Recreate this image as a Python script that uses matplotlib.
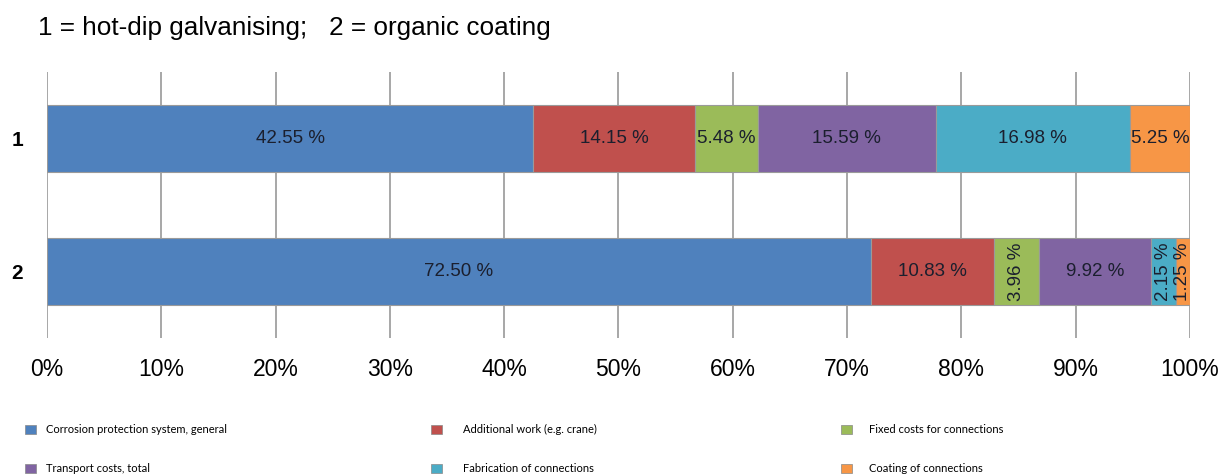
import matplotlib.pyplot as plt
from matplotlib.patches import Patch

categories = ["1", "2"]
series_names = ["Corrosion protection system, general",
                "Additional work (e.g. crane)",
                "Fixed costs for connections",
                "Transport costs, total",
                "Fabrication of connections",
                "Coating of connections"]
values_1 = [42.55, 14.15, 5.48, 15.59, 16.98, 5.25]
values_2 = [72.50, 10.83, 3.96, 9.92, 2.15, 1.25]
colors = ["#4F81BD", "#C0504D", "#9BBB59", "#8064A2", "#4BACC6", "#F79646"]
ticks = [0, 10, 20, 30, 40, 50, 60, 70, 80, 90, 100]

plt.rcParams['font.family'] = ['Liberation Sans', 'DejaVu Sans']

fig = plt.figure(figsize=(12.23, 4.75), dpi=100)
ax = fig.add_axes([0.0384, 0.288, 0.9346, 0.56])

# 100 % stacked: each row scaled to its own total, labels keep the raw values
rows = [values_1, values_2]
for i, vals in enumerate(rows):
    total = sum(vals)
    left = 0
    for j, v in enumerate(vals):
        w = v / total * 100
        ax.barh(i, w, left=left, height=0.5, color=colors[j],
                edgecolor="#9a9a9a", linewidth=0.8, zorder=3)
        rot = 90 if v < 5 else 0
        ax.text(left + w / 2, i, f"{v:.2f} %", rotation=rot, ha="center",
                va="center", fontsize=13.5, color="#1b1f2e", zorder=4)
        left += w

ax.set_xlim(0, 100)
ax.set_ylim(1.5, -0.5)
ax.set_xticks(ticks)
ax.set_xticklabels([f"{t}%" for t in ticks], fontsize=16.5)
ax.set_yticks([0, 1])
ax.set_yticklabels(categories, fontsize=15, fontweight="bold")
ax.tick_params(axis="x", length=0, pad=14)
ax.tick_params(axis="y", length=0, pad=17)
ax.grid(axis="x", color="#a0a0a0", linewidth=1.3, zorder=0)
for s in ax.spines.values():
    s.set_visible(False)

fig.text(0.031, 0.94, "1 = hot-dip galvanising;   2 = organic coating",
         fontsize=18.8, va="center", ha="left")

# legend, three columns
col_x = [0.017, 0.349, 0.684]
pads = [0.9, 1.9, 1.6]
for c in range(3):
    handles = [Patch(facecolor=colors[c], edgecolor="#888888", linewidth=0.5),
               Patch(facecolor=colors[c + 3], edgecolor="#888888", linewidth=0.5)]
    labels = [series_names[c], series_names[c + 3]]
    fig.legend(handles, labels, loc="upper left", bbox_to_anchor=(col_x[c], 0.116),
               frameon=False, handlelength=0.95, handleheight=0.95,
               labelspacing=2.5, handletextpad=pads[c], borderaxespad=0,
               prop={'family': ['Lato', 'DejaVu Sans'], 'size': 8})

fig.savefig("out.png", dpi=100)
